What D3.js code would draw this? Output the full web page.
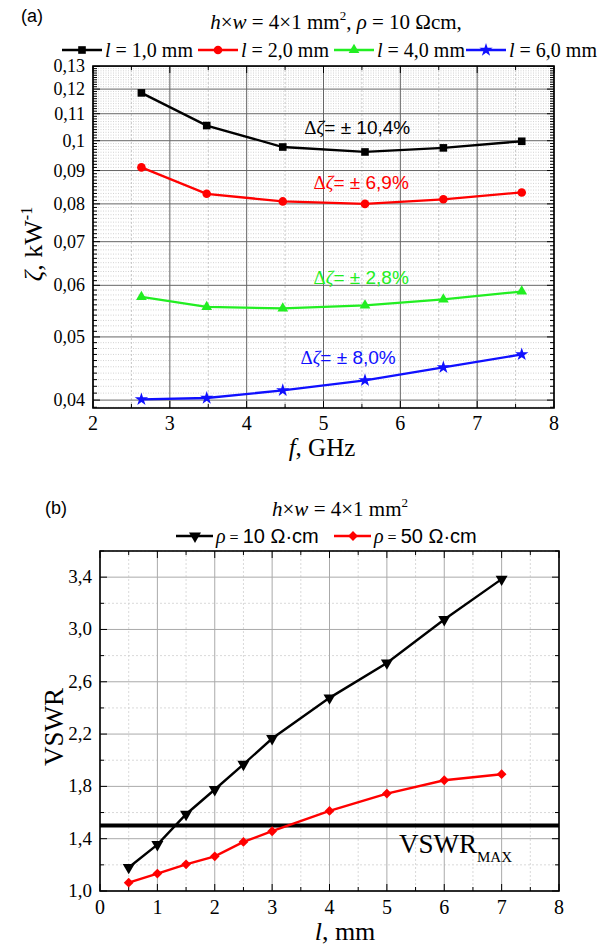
<!DOCTYPE html>
<html>
<head>
<meta charset="utf-8">
<script src="https://cdn.jsdelivr.net/npm/d3@7"></script>
<style>
  body { margin: 0; background: #fff; }
  svg { display: block; }
</style>
</head>
<body>
<svg id="chart"></svg>
<script>
// ---- panel (a): zeta vs frequency ----
const freq = [2.63, 3.48, 4.47, 5.54, 6.56, 7.58];
const zetaL1 = [0.1184, 0.1055, 0.0978, 0.0961, 0.0975, 0.0998];
const zetaL2 = [0.0910, 0.0829, 0.0807, 0.0800, 0.0813, 0.0833];
const zetaL4 = [0.0576, 0.0556, 0.0553, 0.0559, 0.0571, 0.0587];
const zetaL6 = [0.0401, 0.0403, 0.0414, 0.0429, 0.0449, 0.0470];
const seriesNamesA = ["1,0", "2,0", "4,0", "6,0"];
const deltaLabels = ["± 10,4%", "± 6,9%", "± 2,8%", "± 8,0%"];
const freqTicks = [2, 3, 4, 5, 6, 7, 8];
const zetaTicks = [0.04, 0.05, 0.06, 0.07, 0.08, 0.09, 0.1, 0.11, 0.12, 0.13];
const zetaTickLabels = ["0,04", "0,05", "0,06", "0,07", "0,08", "0,09", "0,1", "0,11", "0,12", "0,13"];

// ---- panel (b): VSWR vs length ----
const lengths = [0.5, 1, 1.5, 2, 2.5, 3, 4, 5, 6, 7];
const vswrRho10 = [1.18, 1.355, 1.587, 1.776, 1.969, 2.166, 2.477, 2.744, 3.076, 3.385];
const vswrRho50 = [1.064, 1.133, 1.204, 1.265, 1.375, 1.457, 1.612, 1.745, 1.847, 1.893];
const seriesNamesB = ["10", "50"];
const vswrMax = 1.5;
const lengthTicks = [0, 1, 2, 3, 4, 5, 6, 7, 8];
const vswrTicks = [1.0, 1.4, 1.8, 2.2, 2.6, 3.0, 3.4];

const W = 606, H = 945;
const svg = d3.select("#chart").attr("width", W).attr("height", H);

const SERIF = "'Liberation Serif', 'Times New Roman', serif";
const SANS = "'Liberation Sans', Arial, sans-serif";

const colA = ["#000000", "#ff0000", "#22ee22", "#1010ff"];
const symA = [d3.symbolSquare, d3.symbolCircle, d3.symbolTriangle, d3.symbolStar];
const symSizeA = [58, 58, 50, 55];

let comma = function(v, n) { return d3.format("." + n + "f")(v).replace(".", ","); };

// frame with inward ticks on all four sides
let drawFrame = function(g, x, y, xMaj, xMin, yMaj, yMin) {
    let [x0, x1] = x.range(), [y1, y0] = y.range();
    let tick = function(ax, v, len) {
        if (ax === "x") {
            g.append("line").attr("x1", x(v)).attr("x2", x(v)).attr("y1", y1).attr("y2", y1 - len).attr("stroke", "#000");
            g.append("line").attr("x1", x(v)).attr("x2", x(v)).attr("y1", y0).attr("y2", y0 + len).attr("stroke", "#000");
        } else {
            g.append("line").attr("y1", y(v)).attr("y2", y(v)).attr("x1", x0).attr("x2", x0 + len).attr("stroke", "#000");
            g.append("line").attr("y1", y(v)).attr("y2", y(v)).attr("x1", x1).attr("x2", x1 - len).attr("stroke", "#000");
        }
    };
    xMin.forEach(function(v) { tick("x", v, 4); });
    xMaj.forEach(function(v) { tick("x", v, 7); });
    yMin.forEach(function(v) { tick("y", v, 4); });
    yMaj.forEach(function(v) { tick("y", v, 7); });
    g.append("rect").attr("x", x0).attr("y", y0).attr("width", x1 - x0).attr("height", y1 - y0)
        .attr("fill", "none").attr("stroke", "#000").attr("stroke-width", 1.6);
};

// ================= panel (a) =================
const xA = d3.scaleLinear().domain([2, 8]).range([93, 554]);
const yA = d3.scaleLog().domain([0.0389, 0.1302]).range([408, 66]);
const gA = svg.append("g");

let minorZeta = d3.range(39, 131).map(function(i) { return i / 1000; }).filter(function(v) { return Math.round(v * 1000) % 10 !== 0; });
let minorFreq = d3.range(2.5, 8, 1);

gA.selectAll(".mgy").data(minorZeta).enter().append("line")
    .attr("x1", 93).attr("x2", 554).attr("y1", function(d) { return yA(d); }).attr("y2", function(d) { return yA(d); })
    .attr("stroke", "#c8c8c8").attr("stroke-width", 0.8).attr("stroke-dasharray", "1,1.5");
gA.selectAll(".mgx").data(minorFreq).enter().append("line")
    .attr("y1", 66).attr("y2", 408).attr("x1", function(d) { return xA(d); }).attr("x2", function(d) { return xA(d); })
    .attr("stroke", "#bbbbbb").attr("stroke-width", 0.8).attr("stroke-dasharray", "2,2");
gA.selectAll(".gy").data(zetaTicks).enter().append("line")
    .attr("x1", 93).attr("x2", 554).attr("y1", function(d) { return yA(d); }).attr("y2", function(d) { return yA(d); })
    .attr("stroke", "#666").attr("stroke-width", 1);
gA.selectAll(".gx").data(freqTicks).enter().append("line")
    .attr("y1", 66).attr("y2", 408).attr("x1", function(d) { return xA(d); }).attr("x2", function(d) { return xA(d); })
    .attr("stroke", "#666").attr("stroke-width", 1);

drawFrame(gA, xA, yA, freqTicks, minorFreq, zetaTicks, minorZeta);

gA.selectAll(".xt").data(freqTicks).enter().append("text").attr("font-family", SERIF)
    .attr("x", function(d) { return xA(d); }).attr("y", 430).attr("text-anchor", "middle")
    .attr("font-size", 20).text(function(d) { return d; });
gA.selectAll(".yt").data(zetaTicks).enter().append("text").attr("font-family", SERIF)
    .attr("x", 85).attr("y", function(d) { return yA(d) + 6; }).attr("text-anchor", "end")
    .attr("font-size", 18).text(function(d, i) { return zetaTickLabels[i]; });

let xlA = gA.append("text").attr("font-family", SERIF).attr("x", 322).attr("y", 456)
    .attr("text-anchor", "middle").attr("font-size", 25);
xlA.append("tspan").attr("font-style", "italic").text("f");
xlA.append("tspan").text(", GHz");

let ylA = gA.append("text").attr("font-family", SERIF).attr("transform", "translate(42,244) rotate(-90)")
    .attr("text-anchor", "middle").attr("font-size", 26);
ylA.append("tspan").attr("font-style", "italic").text("ζ");
ylA.append("tspan").text(", kW");
ylA.append("tspan").attr("font-size", 16).attr("dy", -10).text("-1");

let zetaSeries = [zetaL1, zetaL2, zetaL4, zetaL6];
let lineA = d3.line().x(function(d) { return xA(d[0]); }).y(function(d) { return yA(d[1]); });
zetaSeries.forEach(function(s, i) {
    let pts = freq.map(function(f, j) { return [f, s[j]]; });
    gA.append("path").datum(pts).attr("d", lineA).attr("fill", "none")
        .attr("stroke", colA[i]).attr("stroke-width", 2.3);
    gA.selectAll(".m" + i).data(pts).enter().append("path")
        .attr("transform", function(d) { return "translate(" + xA(d[0]) + "," + yA(d[1]) + ")"; })
        .attr("d", d3.symbol().type(symA[i]).size(symSizeA[i])).attr("fill", colA[i]);
});

// Δζ annotations
let annoPos = [[5.44, 0.1024], [5.49, 0.0843], [5.49, 0.0603], [5.32, 0.0454]];
deltaLabels.forEach(function(t, i) {
    let a = gA.append("text").attr("x", xA(annoPos[i][0])).attr("y", yA(annoPos[i][1]))
        .attr("text-anchor", "middle").attr("fill", colA[i]).attr("font-size", 19);
    a.append("tspan").attr("font-family", SERIF).text("Δ");
    a.append("tspan").attr("font-family", SERIF).attr("font-style", "italic").text("ζ");
    a.append("tspan").attr("font-family", SANS).text("= " + t);
});

// header (a)
svg.append("text").attr("font-family", SANS).attr("x", 21).attr("y", 22).attr("font-size", 18).text("(a)");
let tA = svg.append("text").attr("font-family", SERIF).attr("x", 336).attr("y", 29)
    .attr("text-anchor", "middle").attr("font-size", 21);
tA.append("tspan").attr("font-style", "italic").text("h");
tA.append("tspan").text("×");
tA.append("tspan").attr("font-style", "italic").text("w");
tA.append("tspan").text(" = 4×1 mm");
tA.append("tspan").attr("font-size", 13).attr("dy", -9).text("2");
tA.append("tspan").attr("dy", 9).text(", ");
tA.append("tspan").attr("font-style", "italic").text("ρ");
tA.append("tspan").text(" = 10 Ωcm,");

let legA = [62, 198, 334, 466];
legA.forEach(function(lx, i) {
    let ly = 50;
    svg.append("line").attr("x1", lx).attr("x2", lx + 40).attr("y1", ly).attr("y2", ly)
        .attr("stroke", colA[i]).attr("stroke-width", 2.5);
    svg.append("path").attr("transform", "translate(" + (lx + 20) + "," + ly + ")")
        .attr("d", d3.symbol().type(symA[i]).size(symSizeA[i])).attr("fill", colA[i]);
    let t = svg.append("text").attr("font-family", SERIF).attr("x", lx + 43).attr("y", ly + 7).attr("font-size", 20);
    t.append("tspan").attr("font-style", "italic").text("l");
    t.append("tspan").text(" = " + seriesNamesA[i] + " mm");
});

// ================= panel (b) =================
const xB = d3.scaleLinear().domain([0, 8]).range([100, 559]);
const yB = d3.scaleLinear().domain([1.0, 3.6]).range([891, 551]);
const gB = svg.append("g");

let minorLen = d3.range(0.5, 8, 1);
let minorV = d3.range(1.2, 3.7, 0.4);

gB.selectAll(".mgy").data(minorV).enter().append("line")
    .attr("x1", 100).attr("x2", 559).attr("y1", function(d) { return yB(d); }).attr("y2", function(d) { return yB(d); })
    .attr("stroke", "#cfcfcf").attr("stroke-width", 0.8).attr("stroke-dasharray", "2,2");
gB.selectAll(".mgx").data(minorLen).enter().append("line")
    .attr("y1", 551).attr("y2", 891).attr("x1", function(d) { return xB(d); }).attr("x2", function(d) { return xB(d); })
    .attr("stroke", "#cfcfcf").attr("stroke-width", 0.8).attr("stroke-dasharray", "2,2");
gB.selectAll(".gy").data(vswrTicks).enter().append("line")
    .attr("x1", 100).attr("x2", 559).attr("y1", function(d) { return yB(d); }).attr("y2", function(d) { return yB(d); })
    .attr("stroke", "#aaa").attr("stroke-width", 1);
gB.selectAll(".gx").data(lengthTicks).enter().append("line")
    .attr("y1", 551).attr("y2", 891).attr("x1", function(d) { return xB(d); }).attr("x2", function(d) { return xB(d); })
    .attr("stroke", "#aaa").attr("stroke-width", 1);

drawFrame(gB, xB, yB, lengthTicks, minorLen, vswrTicks, minorV);

gB.selectAll(".xt").data(lengthTicks).enter().append("text").attr("font-family", SERIF)
    .attr("x", function(d) { return xB(d); }).attr("y", 914).attr("text-anchor", "middle")
    .attr("font-size", 20).text(function(d) { return d; });
gB.selectAll(".yt").data(vswrTicks).enter().append("text").attr("font-family", SERIF)
    .attr("x", 92).attr("y", function(d) { return yB(d) + 6; }).attr("text-anchor", "end")
    .attr("font-size", 19).text(function(d) { return comma(d, 1); });

let xlB = gB.append("text").attr("font-family", SERIF).attr("x", 345).attr("y", 940)
    .attr("text-anchor", "middle").attr("font-size", 26);
xlB.append("tspan").attr("font-style", "italic").text("l");
xlB.append("tspan").text(", mm");

gB.append("text").attr("font-family", SERIF).attr("transform", "translate(63,727) rotate(-90)")
    .attr("text-anchor", "middle").attr("font-size", 27).text("VSWR");

// VSWR_MAX line
gB.append("line").attr("x1", 100).attr("x2", 559).attr("y1", yB(vswrMax)).attr("y2", yB(vswrMax))
    .attr("stroke", "#000").attr("stroke-width", 4);
let vm = gB.append("text").attr("font-family", SERIF).attr("x", 399).attr("y", 853).attr("font-size", 27);
vm.append("tspan").text("VSWR");
vm.append("tspan").attr("font-size", 15).attr("dy", 9).text("MAX");

const colB = ["#000000", "#ff0000"];
const symB = [d3.symbolTriangle, d3.symbolSquare];
const rotB = [180, 45];
const symSizeB = [62, 48];
let lineB = d3.line().x(function(d) { return xB(d[0]); }).y(function(d) { return yB(d[1]); });
[vswrRho10, vswrRho50].forEach(function(s, i) {
    let pts = lengths.map(function(l, j) { return [l, s[j]]; });
    gB.append("path").datum(pts).attr("d", lineB).attr("fill", "none")
        .attr("stroke", colB[i]).attr("stroke-width", 2.4);
    gB.selectAll(".m" + i).data(pts).enter().append("path")
        .attr("transform", function(d) { return "translate(" + xB(d[0]) + "," + yB(d[1]) + ") rotate(" + rotB[i] + ")"; })
        .attr("d", d3.symbol().type(symB[i]).size(symSizeB[i])).attr("fill", colB[i]);
});

// header (b)
svg.append("text").attr("font-family", SANS).attr("x", 45).attr("y", 514).attr("font-size", 18).text("(b)");
let tB = svg.append("text").attr("font-family", SERIF).attr("x", 340).attr("y", 516)
    .attr("text-anchor", "middle").attr("font-size", 21);
tB.append("tspan").attr("font-style", "italic").text("h");
tB.append("tspan").text("×");
tB.append("tspan").attr("font-style", "italic").text("w");
tB.append("tspan").text(" = 4×1 mm");
tB.append("tspan").attr("font-size", 13).attr("dy", -9).text("2");

let legB = [176, 334];
legB.forEach(function(lx, i) {
    let ly = 536;
    svg.append("line").attr("x1", lx).attr("x2", lx + 37).attr("y1", ly).attr("y2", ly)
        .attr("stroke", colB[i]).attr("stroke-width", 2.5);
    svg.append("path").attr("transform", "translate(" + (lx + 19) + "," + ly + ") rotate(" + rotB[i] + ")")
        .attr("d", d3.symbol().type(symB[i]).size(symSizeB[i])).attr("fill", colB[i]);
    let t = svg.append("text").attr("x", lx + 40).attr("y", ly + 7).attr("font-size", 20);
    t.append("tspan").attr("font-family", SERIF).attr("font-style", "italic").text("ρ");
    t.append("tspan").attr("font-family", SERIF).attr("font-size", 16).text(" = ");
    t.append("tspan").attr("font-family", SANS).text(seriesNamesB[i] + " Ω·cm");
});
</script>
</body>
</html>
